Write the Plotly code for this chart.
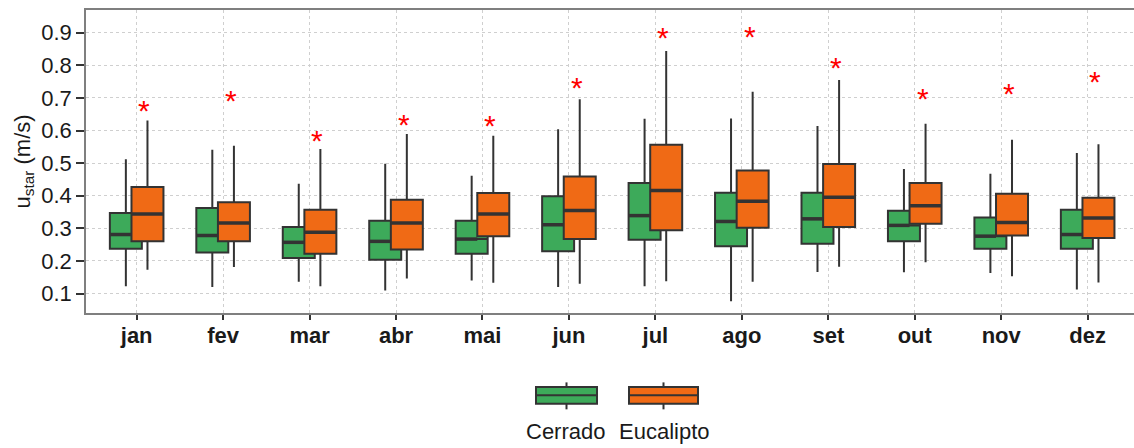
import plotly.graph_objects as go

months = ['jan', 'fev', 'mar', 'abr', 'mai', 'jun', 'jul', 'ago', 'set', 'out', 'nov', 'dez']

cer_low = [0.122, 0.120, 0.136, 0.109, 0.140, 0.120, 0.122, 0.076, 0.166, 0.165, 0.163, 0.112]
cer_q1 = [0.237, 0.226, 0.209, 0.204, 0.222, 0.230, 0.265, 0.245, 0.253, 0.260, 0.237, 0.237]
cer_med = [0.281, 0.278, 0.257, 0.260, 0.267, 0.311, 0.339, 0.321, 0.329, 0.309, 0.276, 0.281]
cer_q3 = [0.347, 0.362, 0.304, 0.323, 0.323, 0.398, 0.439, 0.409, 0.409, 0.354, 0.333, 0.357]
cer_up = [0.512, 0.541, 0.437, 0.498, 0.461, 0.604, 0.636, 0.637, 0.614, 0.482, 0.467, 0.531]

euc_low = [0.173, 0.181, 0.122, 0.146, 0.133, 0.130, 0.138, 0.136, 0.182, 0.196, 0.153, 0.134]
euc_q1 = [0.260, 0.260, 0.222, 0.235, 0.276, 0.267, 0.294, 0.302, 0.304, 0.314, 0.278, 0.270]
euc_med = [0.344, 0.316, 0.288, 0.316, 0.344, 0.355, 0.416, 0.383, 0.395, 0.369, 0.318, 0.332]
euc_q3 = [0.427, 0.380, 0.357, 0.388, 0.408, 0.459, 0.556, 0.477, 0.497, 0.439, 0.406, 0.394]
euc_up = [0.631, 0.553, 0.543, 0.589, 0.584, 0.696, 0.844, 0.719, 0.755, 0.621, 0.572, 0.558]

star_y = [0.678, 0.706, 0.585, 0.633, 0.630, 0.747, 0.900, 0.903, 0.809, 0.714, 0.730, 0.765]

y_ticks = [0.1, 0.2, 0.3, 0.4, 0.5, 0.6, 0.7, 0.8, 0.9]

GREEN = '#3DAA5A'
ORANGE = '#F06A15'
EDGE = '#333333'
OFF = 0.125
BW = 0.37
FONT = 'Liberation Sans, Arial'

xs = list(range(len(months)))
fig = go.Figure()

for name, col, off, lo, q1, md, q3, up in [
    ('Cerrado', GREEN, -OFF, cer_low, cer_q1, cer_med, cer_q3, cer_up),
    ('Eucalipto', ORANGE, OFF, euc_low, euc_q1, euc_med, euc_q3, euc_up),
]:
    fig.add_trace(go.Box(
        name=name,
        x=[i + off for i in xs],
        lowerfence=lo, q1=q1, median=md, q3=q3, upperfence=up,
        width=BW, whiskerwidth=0,
        fillcolor=col, line=dict(color=EDGE, width=2),
        boxpoints=False, showlegend=False, hoverinfo='skip',
    ))

# thicker median lines (green only where visible, orange full width)
for md, left, right in [
    (cer_med, -OFF - BW / 2, OFF - BW / 2),
    (euc_med, OFF - BW / 2, OFF + BW / 2),
]:
    mx, my = [], []
    for i, m in zip(xs, md):
        mx += [i + left, i + right, None]
        my += [m, m, None]
    fig.add_trace(go.Scatter(x=mx, y=my, mode='lines',
                             line=dict(color=EDGE, width=3.5),
                             showlegend=False, hoverinfo='skip'))

# significance stars
for i, s in zip(xs, star_y):
    fig.add_annotation(x=i + 0.09, y=s, xref='x', yref='y', text='*',
                       showarrow=False, yshift=-5,
                       font=dict(family=FONT, size=30, color='#FF0000'))

# y axis title
fig.add_annotation(xref='paper', yref='paper', x=-(86 - 23) / 1048, y=0.5,
                   text='u<sub>star</sub> (m/s)', textangle=-90, showarrow=False,
                   xanchor='center', yanchor='middle',
                   font=dict(family=FONT, size=22, color='#1a1a1a'))

# manual legend
PL, PW, PB, PH = 86, 1048, 313.5, 303.5
def px(x):
    return (x - PL) / PW
def py(y):
    return (PB - y) / PH

for name, col, x0, x1, tx in [('Cerrado', GREEN, 536, 597, 565), ('Eucalipto', ORANGE, 629, 698, 664)]:
    xc = (x0 + x1) / 2
    fig.add_shape(type='line', xref='paper', yref='paper', x0=px(xc), x1=px(xc),
                  y0=py(383), y1=py(410), line=dict(color=EDGE, width=2))
    fig.add_shape(type='rect', xref='paper', yref='paper', x0=px(x0), x1=px(x1),
                  y0=py(404.5), y1=py(387.5), fillcolor=col, line=dict(color=EDGE, width=2))
    fig.add_shape(type='line', xref='paper', yref='paper', x0=px(x0), x1=px(x1),
                  y0=py(396), y1=py(396), line=dict(color=EDGE, width=2))
    fig.add_annotation(xref='paper', yref='paper', x=px(tx), y=py(432), text=name,
                       showarrow=False, xanchor='center', yanchor='middle',
                       font=dict(family=FONT, size=22, color='#1a1a1a'))

fig.update_layout(
    width=1134, height=448,
    margin=dict(l=86, r=0, t=10, b=134.5),
    paper_bgcolor='white', plot_bgcolor='white',
    boxmode='overlay', showlegend=False,
    xaxis=dict(
        range=[-0.586, 11.536], tickmode='array', tickvals=xs, ticktext=months,
        showgrid=True, gridcolor='#cfcfcf', griddash='dot', gridwidth=1,
        showline=True, mirror=True, linecolor='#7f7f7f', linewidth=1.5,
        ticks='outside', ticklen=5, tickcolor='#333333', tickwidth=1.5,
        ticklabelstandoff=-3,
        tickfont=dict(family=FONT, size=22, color='#1a1a1a', weight='bold'),
        zeroline=False,
    ),
    yaxis=dict(
        range=[0.0403, 0.9696], tickmode='array', tickvals=y_ticks,
        ticktext=[f'{v:.1f}' for v in y_ticks],
        showgrid=True, gridcolor='#cfcfcf', griddash='dot', gridwidth=1,
        showline=True, linecolor='#7f7f7f', linewidth=1.5,
        ticks='outside', ticklen=8, tickcolor='#333333', tickwidth=1.5,
        tickfont=dict(family=FONT, size=22, color='#1a1a1a'),
        zeroline=False,
    ),
)

fig.write_html('out.html')
